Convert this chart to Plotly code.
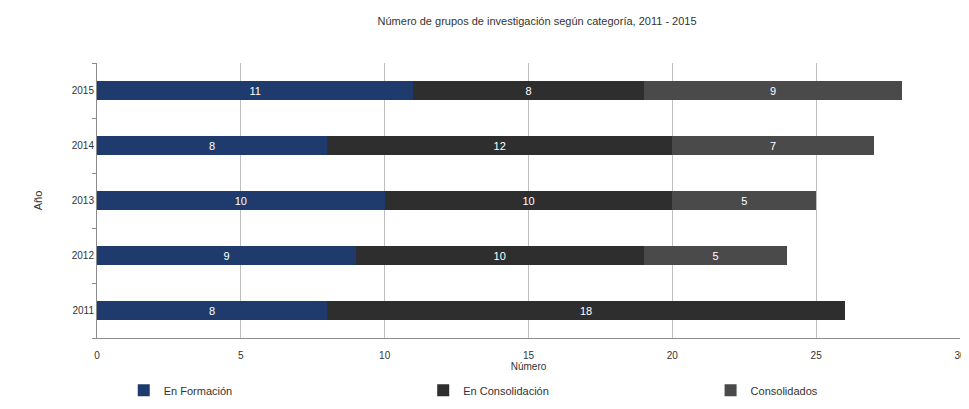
import plotly.graph_objects as go

years = ["2011", "2012", "2013", "2014", "2015"]
en_formacion = [8, 9, 10, 8, 11]
en_consolidacion = [18, 10, 10, 12, 8]
consolidados = [0, 5, 5, 7, 9]
series_names = ["En Formación", "En Consolidación", "Consolidados"]
colors = ["#1f3b6e", "#2e2e2e", "#4a4a4a"]
legend_ids = ["legend", "legend2", "legend3"]
x_ticks = [0, 5, 10, 15, 20, 25, 30]

fig = go.Figure()
for name, vals, col, lg in zip(series_names, [en_formacion, en_consolidacion, consolidados], colors, legend_ids):
    fig.add_trace(go.Bar(
        y=years, x=vals, name=name, orientation="h",
        marker=dict(color=col, line=dict(width=0)),
        text=[str(v) if v > 0 else "" for v in vals],
        textposition="inside", insidetextanchor="middle", textangle=0,
        textfont=dict(color="white", size=11, family="Liberation Sans"),
        hoverinfo="x+y+name", legend=lg,
    ))

leg_common = dict(orientation="h", xanchor="left", y=-0.19, yanchor="middle",
                  font=dict(size=11), bgcolor="rgba(0,0,0,0)")

fig.update_layout(
    barmode="stack",
    bargap=0.64,
    width=969, height=409,
    margin=dict(l=89, r=17, t=55, b=79, autoexpand=False),
    paper_bgcolor="white", plot_bgcolor="white",
    font=dict(family="Liberation Sans", size=10, color="#333333"),
    title=dict(text="Número de grupos de investigación según categoría, 2011 - 2015",
               x=0.546, xanchor="center", y=0.977, yanchor="top",
               font=dict(size=11, color="#333333")),
    xaxis=dict(range=[0, 30], tickvals=x_ticks, showgrid=True, gridcolor="#bfbfbf",
               gridwidth=1, zeroline=False, showline=True, linecolor="#8c8c8c",
               title=dict(text="Número", standoff=2, font=dict(size=10)),
               tickfont=dict(size=10), ticklabelstandoff=8, automargin=False),
    yaxis=dict(categoryorder="array", categoryarray=years, showline=True,
               linecolor="#8c8c8c", showgrid=False,
               title=dict(text="Año", standoff=26, font=dict(size=11)),
               tickfont=dict(size=10), ticks="outside", ticklen=4, tickcolor="#8c8c8c",
               tickson="boundaries", automargin=False),
    legend=dict(x=0.031, **leg_common),
    legend2=dict(x=0.378, **leg_common),
    legend3=dict(x=0.711, **leg_common),
    showlegend=True,
)

fig.write_html("out.html")
